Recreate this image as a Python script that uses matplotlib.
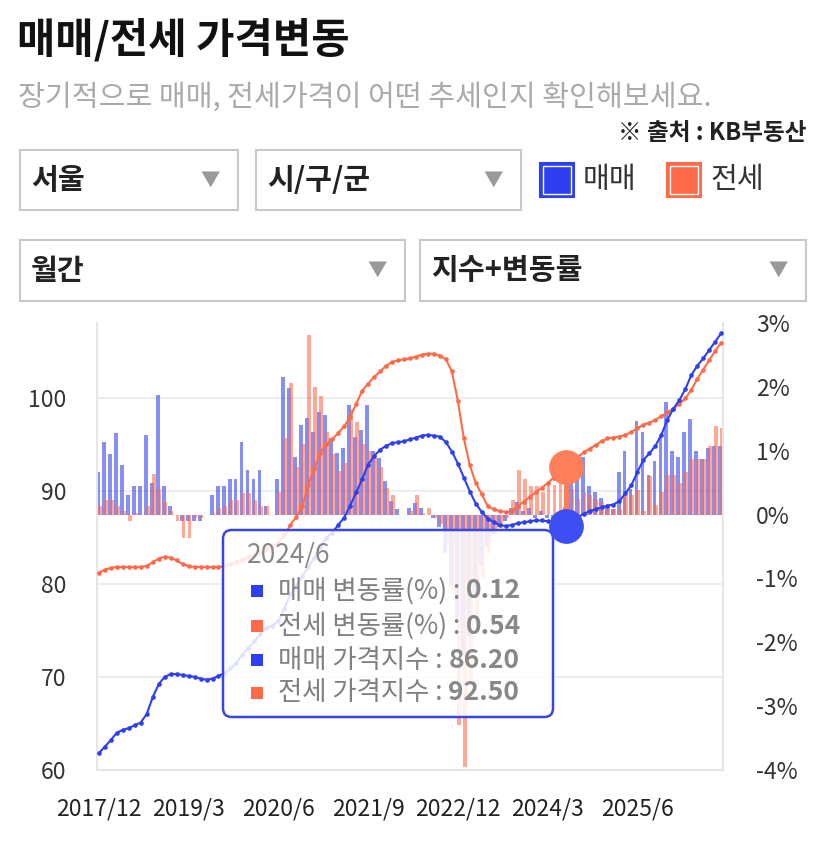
import numpy as np
import matplotlib.pyplot as plt
from matplotlib.patches import FancyBboxPatch, Rectangle

plt.rcParams['font.family'] = ['Noto Sans CJK KR', 'DejaVu Sans']

W, H = 827, 852

# monthly categories 2017/12 ..
months = []
yy, mm = 2017, 12
for _ in range(105):
    months.append(f"{yy}/{mm}")
    mm += 1
    if mm > 12:
        yy, mm = yy + 1, 1

buy_index = [
    61.8, 62.5, 63.2, 64.0, 64.3, 64.5, 64.8, 65.1, 66.0, 67.8,
    69.2, 70.0, 70.3, 70.3, 70.2, 70.1, 70.0, 69.8, 69.7, 69.8,
    70.1, 70.4, 70.9, 71.5, 72.4, 73.1, 73.8, 74.6, 75.3, 75.5,
    76.0, 77.3, 78.9, 79.8, 80.8, 81.8, 82.8, 83.9, 84.9, 85.5,
    86.3, 87.1, 88.4, 89.8, 91.2, 92.8, 93.7, 94.4, 94.8, 95.1,
    95.2, 95.3, 95.5, 95.7, 95.9, 96.0, 95.9, 95.8, 95.2, 94.2,
    92.9, 91.4, 89.9, 88.6, 87.7, 87.0, 86.6, 86.3, 86.2, 86.3,
    86.5, 86.6, 86.7, 86.8, 86.8, 86.7, 86.5, 86.3, 86.2, 86.6,
    87.1, 87.5, 87.8, 88.0, 88.2, 88.4, 88.5, 88.9, 89.7, 90.6,
    92.0, 93.3, 94.0, 94.8, 96.0, 97.6, 98.8, 99.7, 100.9, 102.4,
    103.4, 104.2, 105.1, 106.0, 106.9,
]
jeonse_index = [
    81.2, 81.5, 81.7, 81.8, 81.8, 81.8, 81.8, 81.8, 81.9, 82.3,
    82.7, 82.9, 82.8, 82.5, 82.1, 81.9, 81.8, 81.8, 81.8, 81.8,
    81.8, 81.9, 82.1, 82.3, 82.6, 82.9, 83.1, 83.4, 83.7, 84.0,
    84.4, 85.2, 86.3, 87.2, 88.3, 90.6, 92.4, 94.0, 95.0, 95.5,
    96.2, 96.9, 97.9, 99.3, 100.7, 101.5, 102.2, 102.8, 103.4, 103.8,
    104.0, 104.1, 104.2, 104.4, 104.6, 104.7, 104.7, 104.5, 104.1, 102.8,
    99.6, 95.6, 92.7, 90.8, 89.6, 88.3, 88.0, 87.8, 87.7, 87.8,
    88.3, 88.8, 89.3, 89.8, 90.3, 90.8, 91.4, 91.9, 92.5, 93.1,
    93.6, 94.1, 94.5, 94.9, 95.3, 95.6, 95.7, 95.8, 96.0, 96.3,
    96.7, 97.1, 97.3, 97.6, 98.0, 98.4, 98.8, 99.3, 99.9, 100.8,
    102.0, 103.0, 104.0, 105.0, 105.9,
]
buy_change = [
    0.66, 1.13, 0.95, 1.28, 0.77, 0.31, 0.44, 0.44, 1.24, 0.50,
    1.88, 0.44, 0.13, 0.00, -0.10, -0.10, -0.10, -0.10, 0.00, 0.31,
    0.44, 0.44, 0.56, 0.56, 1.13, 0.70, 0.56, 0.70, 0.13, 0.00,
    0.55, 2.16, 1.98, 0.90, 1.40, 1.51, 1.30, 1.60, 1.56, 1.20,
    0.96, 1.04, 1.72, 1.22, 1.33, 1.72, 0.99, 0.88, 0.52, 0.21,
    0.08, 0.00, 0.10, 0.18, 0.10, 0.00, -0.05, -0.20, -0.60, -1.10,
    -1.60, -2.20, -1.90, -1.30, -0.80, -0.50, -0.30, -0.20, -0.10, 0.10,
    0.20, 0.05, 0.10, -0.05, 0.05, -0.05, -0.10, 0.00, 0.12, 0.55,
    0.90, 0.90, 0.44, 0.36, 0.26, 0.13, 0.08, 0.66, 0.99, 0.40,
    1.46, 1.30, 0.62, 0.84, 1.22, 1.77, 1.00, 0.90, 1.30, 1.50,
    0.99, 0.87, 1.05, 1.07, 1.07,
]
jeonse_change = [
    0.13, 0.23, 0.23, 0.13, 0.05, -0.10, 0.03, 0.00, 0.13, 0.63,
    0.40, 0.20, 0.05, -0.10, -0.36, -0.36, -0.05, -0.05, 0.00, 0.03,
    0.10, 0.13, 0.23, 0.23, 0.33, 0.33, 0.23, 0.13, 0.13, 0.00,
    0.36, 1.20, 2.06, 0.75, 1.10, 2.81, 2.00, 1.86, 1.30, 0.95,
    0.68, 0.80, 1.65, 1.45, 1.10, 0.99, 0.88, 0.75, 0.42, 0.31,
    0.00, 0.00, 0.05, 0.31, 0.03, 0.10, -0.05, -0.15, -0.45, -1.20,
    -3.30, -3.95, -2.60, -1.70, -1.00, -0.60, -0.30, -0.15, -0.05, 0.23,
    0.70, 0.55, 0.44, 0.44, 0.36, 0.50, 0.47, 0.50, 0.54, 0.40,
    0.25, 0.35, 0.30, 0.25, 0.20, 0.15, 0.08, 0.08, 0.30, 0.30,
    0.39, 0.05, 0.60, 0.15, 0.35, 0.62, 0.62, 0.50, 0.67, 0.87,
    0.87, 0.87, 1.07, 1.38, 1.36,
]
hover = months.index("2024/6")

BLUE = '#2e3ff2'
RED = '#ff6a48'


def fx(px):
    return px / W


def fy(py):
    return 1 - py / H


fig = plt.figure(figsize=(W / 100, H / 100), dpi=100)
fig.patch.set_facecolor('white')

fig.text(fx(17), fy(40), '매매/전세 가격변동', fontsize=30, fontweight='bold', color='#111', va='center')
fig.text(fx(18), fy(98), '장기적으로 매매, 전세가격이 어떤 추세인지 확인해보세요.', fontsize=21, color='#aaaaaa', va='center')
fig.text(fx(806), fy(133), '※ 출처 : KB부동산', fontsize=17, fontweight='bold', color='#222', ha='right', va='center')


def dropdown(x0, y0, x1, y1, label):
    fig.add_artist(Rectangle((fx(x0), fy(y1)), (x1 - x0) / W, (y1 - y0) / H, transform=fig.transFigure,
                             facecolor='white', edgecolor='#c8c8c8', lw=1.5))
    fig.text(fx(x0 + 11), fy((y0 + y1) / 2), label, fontsize=21, fontweight='bold', color='#222', va='center')
    fig.text(fx(x1 - 28), fy((y0 + y1) / 2), '▼', fontsize=14, color='#999', ha='center', va='center')


dropdown(20, 150, 238, 210, '서울')
dropdown(256, 150, 521, 210, '시/구/군')
dropdown(20, 240, 405, 301, '월간')
dropdown(420, 240, 806, 301, '지수+변동률')

for x0, color, label in [(540, BLUE, '매매'), (667, RED, '전세')]:
    fig.add_artist(Rectangle((fx(x0), fy(197)), 34 / W, 34 / H, transform=fig.transFigure,
                             facecolor=color, edgecolor=color, lw=1.5))
    fig.add_artist(Rectangle((fx(x0 + 3), fy(194)), 28 / W, 28 / H, transform=fig.transFigure,
                             facecolor='none', edgecolor='white', lw=1))
    fig.text(fx(x0 + 43), fy(180), label, fontsize=21, color='#333', va='center')

# chart
ax = fig.add_axes([fx(97), fy(770), 626 / W, 447 / H])
ax2 = ax.twinx()
ax.set_zorder(ax2.get_zorder() + 1)
ax.patch.set_visible(False)

x = np.arange(len(months))
ax2.bar(x - 0.15, buy_change, width=0.65, color=BLUE, alpha=0.58, lw=0, zorder=2)
ax2.bar(x + 0.15, jeonse_change, width=0.65, color=RED, alpha=0.58, lw=0, zorder=2)
ax2.bar(hover + 0.15, jeonse_change[hover], width=0.8, color='#ff7d55', lw=0, zorder=3)
ax2.set_ylim(-4, 3)
ax2.set_yticks(range(-4, 4))
ax2.set_yticklabels([f"{v}%" for v in range(-4, 4)])
ax2.tick_params(axis='y', length=0, pad=24, labelsize=16.5, labelcolor='#333')
for s in ax2.spines.values():
    s.set_visible(False)

ax.set_xlim(-0.3, len(months) - 0.7)
ax.set_ylim(60, 108)
ax.set_yticks([60, 70, 80, 90, 100])
ax2.hlines([70, 80, 90, 100], -0.3, len(months) - 0.7, color='#ececec', lw=1.3, zorder=0,
           transform=ax.transData)

ax.plot(x, jeonse_index, color=RED, lw=1.5, marker='o', ms=2.3, zorder=4)
ax.plot(x, buy_index, color=BLUE, lw=1.5, marker='o', ms=2.3, zorder=5)

ax.set_xticks(x[::15])
ax.set_xticklabels(months[::15])
ax.tick_params(axis='x', length=0, pad=20, labelsize=16.5, labelcolor='#222')
ax.tick_params(axis='y', length=0, pad=22, labelsize=16.5, labelcolor='#333')
ax.spines['top'].set_visible(False)
for side in ['left', 'right', 'bottom']:
    ax.spines[side].set_color('#e6e6e6')
    ax.spines[side].set_linewidth(1.5)


# tooltip
def ax_pt(px, py):
    return (px - 97) / 626, (770 - py) / 447


tx, ty = ax_pt(223, 717)
tip = FancyBboxPatch((tx, ty), 330 / 626, 187 / 447, transform=ax.transAxes,
                     boxstyle='round,pad=0,rounding_size=0.014', mutation_aspect=626 / 447,
                     facecolor=(1, 1, 1, 0.85), edgecolor='#3a46e2', lw=1.8, zorder=10, clip_on=False)
ax.add_patch(tip)
ax.text(*ax_pt(247, 556), months[hover], transform=ax.transAxes, fontsize=19, color='#888',
        va='center', zorder=11)

rows = [
    (BLUE, '매매 변동률(%) : ', f"{buy_change[hover]:.2f}", 591),
    (RED, '전세 변동률(%) : ', f"{jeonse_change[hover]:.2f}", 626),
    (BLUE, '매매 가격지수 : ', f"{buy_index[hover]:.2f}", 660),
    (RED, '전세 가격지수 : ', f"{jeonse_index[hover]:.2f}", 693),
]
for color, label, value, ry in rows:
    sx, sy = ax_pt(251, ry + 6)
    ax.add_patch(Rectangle((sx, sy), 12 / 626, 12 / 447, transform=ax.transAxes,
                           facecolor=color, lw=0, zorder=11))
    t = ax.text(*ax_pt(278, ry), label, transform=ax.transAxes, fontsize=19, color='#808080',
                va='center', zorder=11)
    ax.annotate(value, xy=(1, 0.5), xycoords=t, fontsize=19, fontweight='bold', color='#888',
                va='center', ha='left', zorder=11)

ax.plot(hover, jeonse_index[hover], 'o', ms=24, color='#ff7f5a', mec='#ff7f5a', zorder=12, clip_on=False)
ax.plot(hover, buy_index[hover], 'o', ms=24, color='#3d4ef5', mec='#3d4ef5', zorder=12, clip_on=False)

fig.savefig('out.png', dpi=100)
